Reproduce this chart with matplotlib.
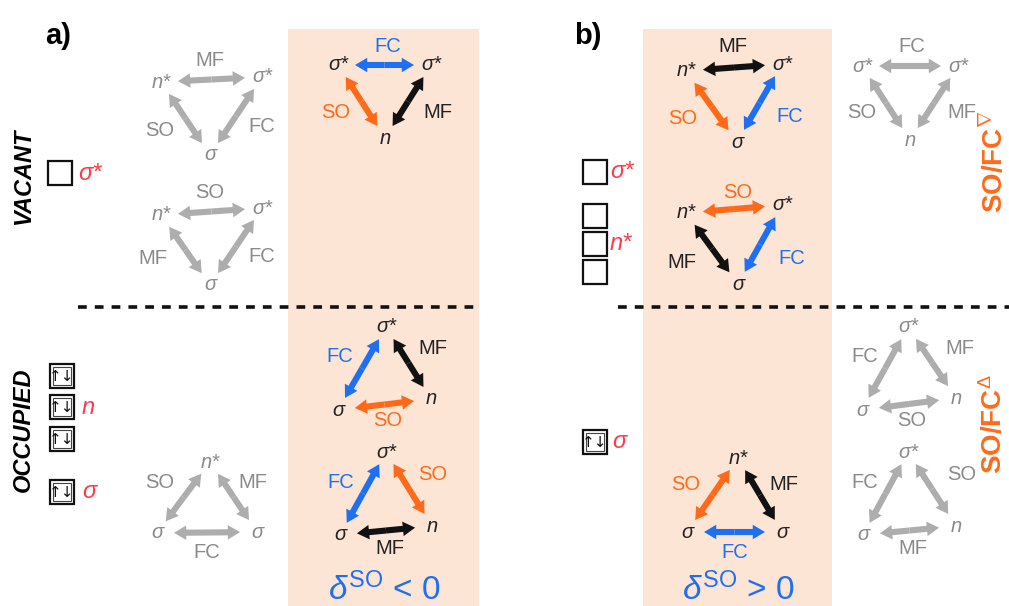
import numpy as np
import matplotlib.pyplot as plt
from matplotlib.patches import FancyArrowPatch, Rectangle

plt.rcParams['font.family'] = ['Liberation Sans', 'DejaVu Sans']
plt.rcParams['mathtext.fontset'] = 'custom'
plt.rcParams['mathtext.rm'] = 'Liberation Sans'
plt.rcParams['mathtext.it'] = 'Liberation Sans:italic'
plt.rcParams['mathtext.bf'] = 'Liberation Sans:bold'
plt.rcParams['lines.scale_dashes'] = False

GRAY, GRAY_TXT = '#adadad', '#8a8a8a'
ORANGE, BLUE, BLACK = '#ff6a1a', '#1f6ff2', '#111111'
RED = '#ff3b4a'
SHADE = '#fde5d6'

# node labels of each coupling triangle
tri_nodes = [
    ('n*', 'σ*', 'σ'),   # a, vacant 1
    ('n*', 'σ*', 'σ'),   # a, vacant 2
    ('σ*', 'σ*', 'n'),   # a, shaded top
    ('σ*', 'σ', 'n'),    # a, shaded mid
    ('σ*', 'σ', 'n'),    # a, shaded low
    ('n*', 'σ', 'σ'),    # a, occupied
    ('n*', 'σ*', 'σ'),   # b, shaded 1
    ('n*', 'σ*', 'σ'),   # b, shaded 2
    ('n*', 'σ', 'σ'),    # b, shaded occupied
    ('σ*', 'σ*', 'n'),   # b, right top
    ('σ*', 'σ', 'n'),    # b, right mid
    ('σ*', 'σ', 'n'),    # b, right low
]
# edges (0-1, 0-2, 1-2): coupling label
tri_edges = [
    ('MF', 'SO', 'FC'),
    ('SO', 'MF', 'FC'),
    ('FC', 'SO', 'MF'),
    ('FC', 'MF', 'SO'),
    ('FC', 'SO', 'MF'),
    ('SO', 'MF', 'FC'),
    ('MF', 'SO', 'FC'),
    ('SO', 'MF', 'FC'),
    ('SO', 'MF', 'FC'),
    ('FC', 'SO', 'MF'),
    ('FC', 'MF', 'SO'),
    ('FC', 'SO', 'MF'),
]
tri_active = [False, False, True, True, True, False,
              True, True, True, False, False, False]

# layout (pixels)
tri_pos = [
    [(161, 82), (262, 77), (210, 155)],
    [(161, 215), (262, 208), (210, 285)],
    [(338, 65), (431, 65), (385, 138)],
    [(386, 327), (338, 410), (431, 399)],
    [(386, 452), (340, 535), (432, 526)],
    [(210, 462), (157, 533), (257, 532)],
    [(686, 71), (782, 64), (737, 142)],
    [(686, 213), (782, 205), (738, 284)],
    [(738, 458), (687, 532), (782, 532)],
    [(862, 66), (958, 66), (910, 140)],
    [(908, 327), (862, 410), (956, 398)],
    [(908, 452), (863, 535), (956, 526)],
]
tri_label_pos = [
    [(210, 60), (160, 130), (262, 127)],
    [(210, 193), (153, 258), (262, 257)],
    [(388, 47), (336, 113), (438, 113)],
    [(340, 357), (433, 349), (388, 421)],
    [(341, 483), (433, 475), (390, 548)],
    [(160, 483), (253, 483), (207, 552)],
    [(733, 47), (683, 118), (790, 116)],
    [(738, 192), (682, 262), (792, 258)],
    [(686, 484), (784, 484), (735, 552)],
    [(912, 47), (862, 113), (962, 113)],
    [(865, 357), (960, 349), (912, 421)],
    [(865, 483), (962, 475), (913, 548)],
]
coupling_color = {'FC': BLUE, 'SO': ORANGE, 'MF': BLACK}

fig = plt.figure(figsize=(10.09, 6.06), dpi=100, facecolor='white')
ax = fig.add_axes([0, 0, 1, 1])
ax.set_xlim(0, 1009)
ax.set_ylim(606, 0)
ax.axis('off')

# shaded columns
for x0, x1 in [(288, 479), (643, 832)]:
    ax.add_patch(Rectangle((x0, 29), x1 - x0, 600, color=SHADE, lw=0, zorder=0))

# dashed separators
for x0, x1 in [(78, 478), (618, 1009)]:
    ax.plot([x0, x1], [307, 307], color=BLACK, lw=2.6, linestyle=(0, (6.3, 5.8)),
            solid_capstyle='butt', dash_capstyle='butt')

ARROW = 'simple,head_length=0.8,head_width=0.95,tail_width=0.4'


def double_arrow(p, q, color):
    p, q = np.array(p, float), np.array(q, float)
    d = q - p
    u = d / np.hypot(*d)
    s = 11 + 6 * abs(u[0])
    a, b = p + u * s, q - u * s
    m = (a + b) / 2
    for tip in (a, b):
        ax.add_patch(FancyArrowPatch(m, tip, arrowstyle=ARROW, mutation_scale=11,
                                     lw=0, color=color, shrinkA=0, shrinkB=0, zorder=2))


pairs = [(0, 1), (0, 2), (1, 2)]
for nodes, edges, active, pos, lpos in zip(tri_nodes, tri_edges, tri_active,
                                           tri_pos, tri_label_pos):
    for (i, j), lab, lp in zip(pairs, edges, lpos):
        if active:
            col = coupling_color[lab]
            tcol = '#222222' if lab == 'MF' else col
        else:
            col, tcol = GRAY, GRAY_TXT
        double_arrow(pos[i], pos[j], col)
        ax.text(lp[0], lp[1], lab, color=tcol, fontsize=14.5, ha='center', va='center')
    for name, p in zip(nodes, pos):
        ax.text(p[0], p[1], name, color='#222222' if active else GRAY_TXT,
                fontsize=14.5, style='italic', ha='center', va='center')

# panel letters
ax.text(45, 36, 'a)', fontsize=21, fontweight='bold', ha='left', va='center')
ax.text(574, 36, 'b)', fontsize=21, fontweight='bold', ha='left', va='center')

# side labels
ax.text(24, 177, 'VACANT', fontsize=17, fontweight='bold', style='italic',
        rotation=90, ha='center', va='center')
ax.text(23, 430, 'OCCUPIED', fontsize=17, fontweight='bold', style='italic',
        rotation=90, ha='center', va='center')
ax.text(994, 162, r'SO/FC$^{\nabla}$', fontsize=20, fontweight='bold', color=ORANGE,
        rotation=90, ha='center', va='center')
ax.text(994, 424, r'SO/FC$^{\Delta}$', fontsize=20, fontweight='bold', color=ORANGE,
        rotation=90, ha='center', va='center')

# orbital level boxes: (x, y_top, occupied)
box_list = [
    (48, 161, False),
    (50, 364, True), (50, 395, True), (50, 427, True), (50, 480, True),
    (583, 160, False), (583, 204, False), (583, 232, False), (583, 260, False),
    (583, 430, True),
]
box_size = 24
for bx, by, occ in box_list:
    ax.add_patch(Rectangle((bx, by), box_size, box_size, fill=False, ec=BLACK, lw=1.6, zorder=3))
    if occ:
        ax.add_patch(Rectangle((bx + 3, by + 3), box_size - 6, box_size - 6, fill=False,
                               ec='#444444', lw=0.8, zorder=3))
        ax.text(bx + box_size / 2, by + box_size / 2 + 0.5, '↑↓', fontsize=11,
                family='DejaVu Sans', ha='center', va='center', color=BLACK)

level_labels = [('σ*', 78, 173), ('n', 82, 407), ('σ', 82, 492),
                ('σ*', 610, 172), ('n*', 610, 244), ('σ', 612, 442)]
for lab, lx, ly in level_labels:
    ax.text(lx, ly, lab, color=RED, fontsize=17, style='italic', ha='left', va='center')

# delta SO signs
ax.text(384, 600, r'$\delta^{\mathrm{SO}}$ < 0', color=BLUE, fontsize=24,
        ha='center', va='baseline')
ax.text(738, 600, r'$\delta^{\mathrm{SO}}$ > 0', color=BLUE, fontsize=24,
        ha='center', va='baseline')

fig.savefig('out.png', dpi=100, facecolor='white')
plt.close()
